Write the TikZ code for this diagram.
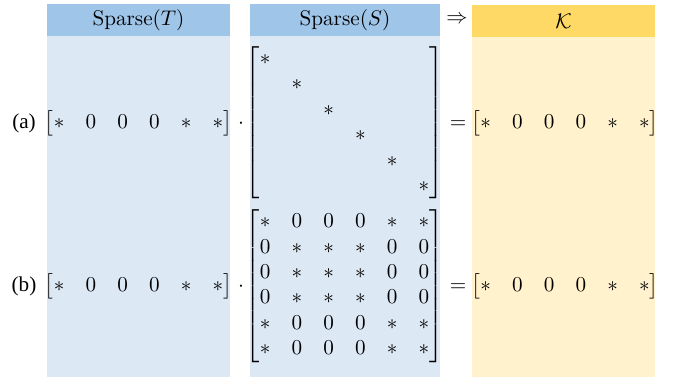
\documentclass[tikz,border=0pt]{standalone}
\usepackage{amsmath}
\usepackage{fontspec}
\newfontfamily\labfont{Liberation Serif}
\definecolor{bhead}{HTML}{9FC5E8}
\definecolor{bbody}{HTML}{DDE8F5}
\definecolor{yhead}{HTML}{FFD966}
\definecolor{ybody}{HTML}{FFF2CC}
\begin{document}
\begin{tikzpicture}[x=1pt,y=-1pt,
  big/.style={scale=2.117, inner sep=0pt},
  eq/.style={big, anchor=base},
  hdr/.style={big, anchor=center}]
\useasboundingbox (0,0) rectangle (673,382);
% panels
\fill[bbody] (47,36) rectangle (230,377);
\fill[bhead] (47,4) rectangle (230,36);
\fill[bbody] (250,36) rectangle (440,377);
\fill[bhead] (250,4) rectangle (440,36);
\fill[ybody] (472,37) rectangle (655,377);
\fill[yhead] (472,5) rectangle (655,37);
% headers
\node[hdr] (hT) at (138.5,20) {$\mathrm{Sparse}(T)$};
\node[hdr] (hS) at (345,20) {$\mathrm{Sparse}(S)$};
\node[hdr] (imp) at (457,20) {$\Rightarrow$};
\node[hdr] (hK) at (563.5,21) {$\mathcal{K}$};
% row (a)
\node[eq] (la) at (24,128.3) {\labfont (a)};
\node[eq] (Ta) at (138.5,128.3) {$\begin{bmatrix} * & 0 & 0 & 0 & * & * \end{bmatrix}$};
\node[eq] (da) at (241,128.3) {$\cdot$};
\node[eq] (Sa) at (344.5,128.3) {$\begin{bmatrix}
* & & & & & \\
 & * & & & & \\
 & & * & & & \\
 & & & * & & \\
 & & & & * & \\
 & & & & & *
\end{bmatrix}$};
\node[eq] (ea) at (458,128.3) {$=$};
\node[eq] (Ka) at (565,128.3) {$\begin{bmatrix} * & 0 & 0 & 0 & * & * \end{bmatrix}$};
% row (b)
\node[eq] (lb) at (24,291.5) {\labfont (b)};
\node[eq] (Tb) at (138.5,291.5) {$\begin{bmatrix} * & 0 & 0 & 0 & * & * \end{bmatrix}$};
\node[eq] (db) at (241,291.5) {$\cdot$};
\node[eq] (Sb) at (344.5,291.5) {$\begin{bmatrix}
* & 0 & 0 & 0 & * & * \\
0 & * & * & * & 0 & 0 \\
0 & * & * & * & 0 & 0 \\
0 & * & * & * & 0 & 0 \\
* & 0 & 0 & 0 & * & * \\
* & 0 & 0 & 0 & * & *
\end{bmatrix}$};
\node[eq] (eb) at (458,291.5) {$=$};
\node[eq] (Kb) at (565,291.5) {$\begin{bmatrix} * & 0 & 0 & 0 & * & * \end{bmatrix}$};
\end{tikzpicture}
\end{document}
